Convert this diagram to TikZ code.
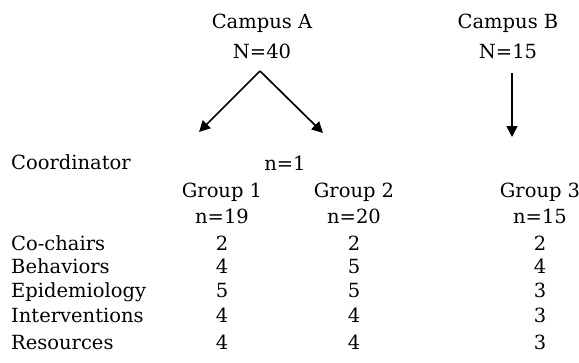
\documentclass[tikz,border=0pt]{standalone}
\usepackage{fontspec}
\setmainfont{DejaVu Serif}
\usetikzlibrary{arrows.meta, positioning}

\tikzset{
	txt/.style={inner sep=0pt, anchor=base, font=\fontsize{19.5}{24}\selectfont},
	rowlbl/.style={txt, anchor=base west},
	split/.style={line width=1.7pt, -{Triangle[length=11pt, width=11pt]}}
}

\begin{document}
\begin{tikzpicture}[x=1pt, y=-1pt]
	% ====== canvas ======
	\useasboundingbox[fill=white] (0,0) rectangle (579,362);
	
	% ====== column positions ======
	\def\xl{11}   % row labels
	\def\xa{222}  % group 1
	\def\xb{354}  % group 2
	\def\xc{540}  % group 3
	
	% ====== campuses ======
	\node[txt] (campA) at (262,28) {Campus A};
	\node[txt] (sizeA) at (262,58) {N=40};
	\node[txt] (campB) at (508,28) {Campus B};
	\node[txt] (sizeB) at (508,58) {N=15};
	
	% ====== arrow ends ======
	\coordinate (aTop) at (260,71);
	\coordinate (aLeft) at (199,132);
	\coordinate (aRight) at (323,133);
	\coordinate (bTop) at (512,73);
	\coordinate (bBot) at (512,137);
	
	\draw[split] (aTop) -- (aLeft);
	\draw[split] (aTop) -- (aRight);
	\draw[split] (bTop) -- (bBot);
	
	% ====== coordinator ======
	\node[rowlbl] (coord) at (\xl,169) {Coordinator};
	\node[txt] (coordN) at (285,170) {n=1};
	
	% ====== group headers ======
	\node[txt] (grpA) at (\xa,197) {Group 1};
	\node[txt] (grpB) at (\xb,197) {Group 2};
	\node[txt] (grpC) at (\xc,197) {Group 3};
	\node[txt] (nA) at (\xa,223) {n=19};
	\node[txt] (nB) at (\xb,223) {n=20};
	\node[txt] (nC) at (\xc,223) {n=15};
	
	% ====== rows ======
	\node[rowlbl] (chairs) at (\xl,250) {Co-chairs};
	\node[txt] (chairsA) at (\xa,250) {2};
	\node[txt] (chairsB) at (\xb,250) {2};
	\node[txt] (chairsC) at (\xc,250) {2};
	
	\node[rowlbl] (behav) at (\xl,273) {Behaviors};
	\node[txt] (behavA) at (\xa,273) {4};
	\node[txt] (behavB) at (\xb,273) {5};
	\node[txt] (behavC) at (\xc,273) {4};
	
	\node[rowlbl] (epid) at (\xl,297) {Epidemiology};
	\node[txt] (epidA) at (\xa,297) {5};
	\node[txt] (epidB) at (\xb,297) {5};
	\node[txt] (epidC) at (\xc,297) {3};
	
	\node[rowlbl] (interv) at (\xl,322) {Interventions};
	\node[txt] (intervA) at (\xa,322) {4};
	\node[txt] (intervB) at (\xb,322) {4};
	\node[txt] (intervC) at (\xc,322) {3};
	
	\node[rowlbl] (resrc) at (\xl,349) {Resources};
	\node[txt] (resrcA) at (\xa,349) {4};
	\node[txt] (resrcB) at (\xb,349) {4};
	\node[txt] (resrcC) at (\xc,349) {3};
\end{tikzpicture}
\end{document}
